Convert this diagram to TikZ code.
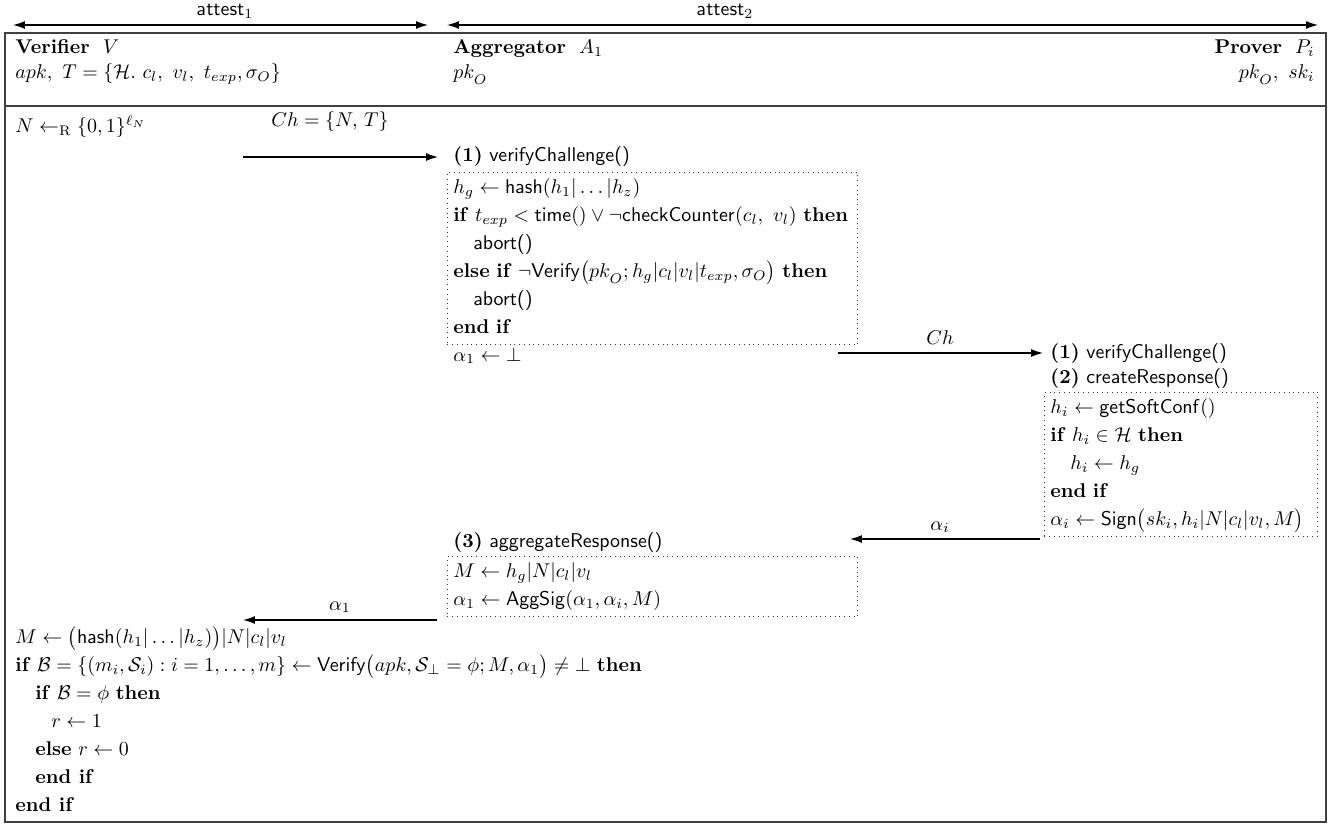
\documentclass[tikz,border=0pt]{standalone}
\usepackage{amsmath}
\usepackage{amsfonts}
\usepackage{amssymb}
\usetikzlibrary{arrows.meta}

\newcommand{\kw}[1]{\textbf{#1}}
\newcommand{\fn}[1]{\mathsf{#1}}
\newcommand{\pkO}{pk_{\lower1.2pt\hbox{$\scriptstyle O$}}}
\renewcommand{\arraystretch}{1.17}

\begin{document}
\begin{tikzpicture}[x=0.502pt, y=-0.502pt,
		txt/.style={anchor=base west, inner sep=0pt},
		rtxt/.style={anchor=base east, inner sep=0pt},
		lbl/.style={anchor=base, inner sep=0pt},
		frame/.style={draw=black!75, line width=0.6pt},
		codebox/.style={draw=black!80, dotted, anchor=north west, inner xsep=3pt, inner ysep=1pt, align=left},
		msg/.style={-{Latex[length=6pt, width=4pt]}, line width=0.6pt},
		span/.style={{Latex[length=6pt, width=4pt]}-{Latex[length=6pt, width=4pt]}, line width=0.6pt}]
		\useasboundingbox (0,0) rectangle (1332,829);
		
		% phases
		\coordinate (att1-l) at (13,25);
		\coordinate (att1-r) at (428,25);
		\coordinate (att2-l) at (447,25);
		\coordinate (att2-r) at (1318,25);
		\draw[span] (att1-l) -- (att1-r);
		\draw[span] (att2-l) -- (att2-r);
		\node[lbl] (att1) at (225,16) {$\fn{attest}_1$};
		\node[lbl] (att2) at (725,16) {$\fn{attest}_2$};
		
		% frame
		\draw[frame] (5,33) rectangle (1326,822);
		\draw[frame] (5,106) -- (1326,106);
		
		\node[txt] (ver) at (15,54) {\kw{Verifier} \ $V$};
		\node[txt] (verkeys) at (15,79) {$apk,\ T=\{\mathcal{H}.\ c_l,\ v_l,\ t_{exp},\sigma_O\}$};
		\node[txt] (agg) at (453,54) {\kw{Aggregator} \ $A_1$};
		\node[txt] (aggkeys) at (453,79) {$\pkO$};
		\node[rtxt] (prv) at (1315,54) {\kw{Prover} \ $P_i$};
		\node[rtxt] (prvkeys) at (1315,79) {$\pkO,\ sk_i$};
		
		% verifier
		\node[txt] (nonce) at (15,133) {$N \leftarrow_{\mathrm{R}} \{0,1\}^{\ell_N}$};
		
		% aggregator
		\node[txt] (agg1) at (453,162) {\kw{(1)} \textsf{verifyChallenge()}};
		\node[codebox, text width=200pt] (aggbox) at (447,172) {\begin{tabular}{@{}l@{}}
			$h_g \leftarrow \fn{hash}(h_1|\ldots|h_z)$\\
			\kw{if} $t_{exp} < \fn{time}() \lor \neg\fn{checkCounter}(c_l,\ v_l)$ \kw{then}\\
			\quad\textsf{abort()}\\
			\kw{else if} $\neg\fn{Verify}\big(\pkO; h_g|c_l|v_l|t_{exp},\sigma_O\big)$ \kw{then}\\
			\quad\textsf{abort()}\\
			\kw{end if}
		\end{tabular}};
		\node[txt] (agginit) at (453,361) {$\alpha_1 \leftarrow \bot$};
		
		% prover
		\node[txt] (prv1) at (1050,358) {\kw{(1)} \textsf{verifyChallenge()}};
		\node[txt] (prv2) at (1050,383) {\kw{(2)} \textsf{createResponse()}};
		\node[codebox, text width=131pt] (prvbox) at (1044,392) {\begin{tabular}{@{}l@{}}
			$h_i \leftarrow \fn{getSoftConf}()$\\
			\kw{if} $h_i \in \mathcal{H}$ \kw{then}\\
			\quad$h_i \leftarrow h_g$\\
			\kw{end if}\\
			$\alpha_i \leftarrow \fn{Sign}\big(sk_i, h_i|N|c_l|v_l, M\big)$
		\end{tabular}};
		
		% aggregation
		\node[txt] (agg3) at (453,547) {\kw{(3)} \textsf{aggregateResponse()}};
		\node[codebox, text width=200pt] (aggbox2) at (447,556) {\begin{tabular}{@{}l@{}}
			$M \leftarrow h_g|N|c_l|v_l$\\
			$\alpha_1 \leftarrow \fn{AggSig}(\alpha_1,\alpha_i,M)$
		\end{tabular}};
		
		% verification
		\node[anchor=north west, inner sep=0pt] (vercheck) at (15,624) {\begin{tabular}{@{}l@{}}
			$M \leftarrow \big(\fn{hash}(h_1|\ldots|h_z)\big)|N|c_l|v_l$\\
			\kw{if} $\mathcal{B}=\{(m_i,\mathcal{S}_i) : i=1,\ldots,m\} \leftarrow \fn{Verify}\big(apk,\mathcal{S}_\bot=\phi; M,\alpha_1\big) \neq \bot$ \kw{then}\\
			\quad\kw{if} $\mathcal{B}=\phi$ \kw{then}\\
			\hspace*{1.8em}$r \leftarrow 1$\\
			\quad\kw{else} $r \leftarrow 0$\\
			\quad\kw{end if}\\
			\kw{end if}
		\end{tabular}};
		
		% messages
		\coordinate (ch-s) at (243,157);
		\coordinate (ch-t) at (438,157);
		\draw[msg] (ch-s) -- (ch-t);
		\node[lbl] (chlbl) at (330,127) {$Ch=\{N,\,T\}$};
		
		\coordinate (ch2-s) at (838,353);
		\coordinate (ch2-t) at (1043,353);
		\draw[msg] (ch2-s) -- (ch2-t);
		\node[lbl] (ch2lbl) at (940,344) {$Ch$};
		
		\coordinate (ai-s) at (1040,539);
		\coordinate (ai-t) at (850,539);
		\draw[msg] (ai-s) -- (ai-t);
		\node[lbl] (ailbl) at (940,530) {$\alpha_i$};
		
		\coordinate (a1-s) at (437,620);
		\coordinate (a1-t) at (243,620);
		\draw[msg] (a1-s) -- (a1-t);
		\node[lbl] (a1lbl) at (340,610) {$\alpha_1$};
	\end{tikzpicture}
\end{document}
